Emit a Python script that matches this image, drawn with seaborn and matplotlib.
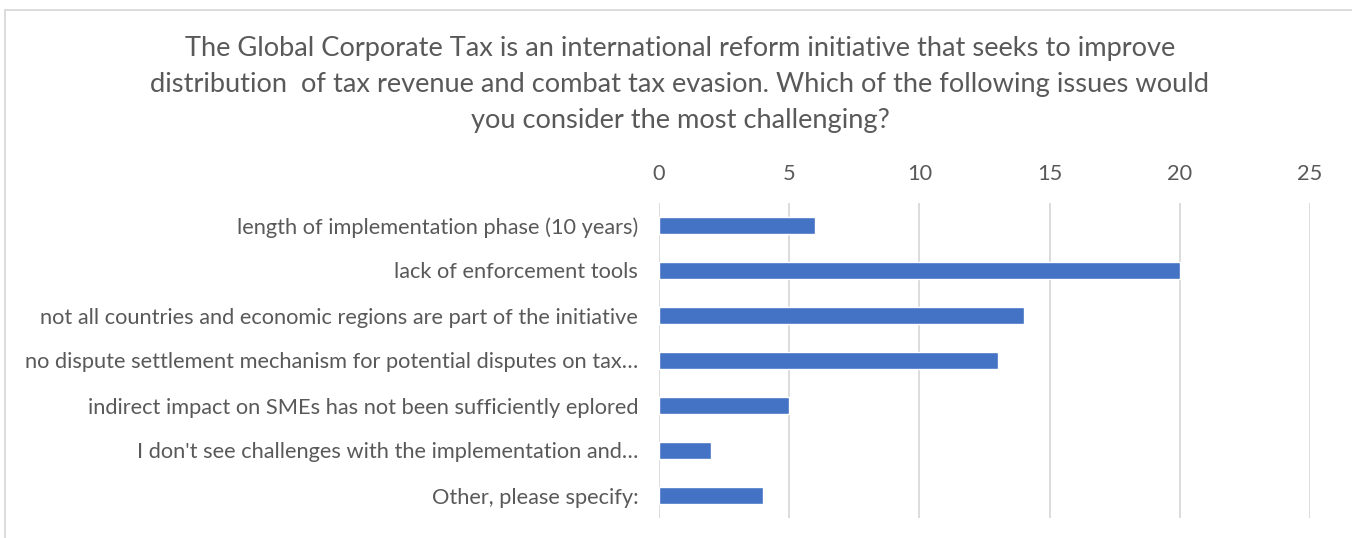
import matplotlib
matplotlib.use("Agg")
import matplotlib.pyplot as plt
import seaborn as sns
import pandas as pd
from matplotlib.patches import Rectangle

categories = [
    "length of implementation phase (10 years)",
    "lack of enforcement tools",
    "not all countries and economic regions are part of the initiative",
    "no dispute settlement mechanism for potential disputes on tax\u2026",
    "indirect impact on SMEs has not been sufficiently eplored",
    "I don't see challenges with the implementation and\u2026",
    "Other, please specify:",
]
responses = [6, 20, 14, 13, 5, 2, 4]
x_ticks = [0, 5, 10, 15, 20, 25]
title = ("The Global Corporate Tax is an international reform initiative that seeks to improve\n"
         "distribution  of tax revenue and combat tax evasion. Which of the following issues would\n"
         "you consider the most challenging?")

sns.set_theme(style="white")
plt.rcParams["font.family"] = ["Lato", "DejaVu Sans"]

W, H = 1352, 538
fig = plt.figure(figsize=(W / 100, H / 100), dpi=100)
ax = fig.add_axes([659 / W, 1 - 518 / H, (1310 - 659) / W, (518 - 203) / H])

df = pd.DataFrame({"issue": categories, "count": responses})
sns.barplot(data=df, y="issue", x="count", orient="h", color="#4472C4",
            saturation=1, width=0.36, ax=ax)

ax.set_xlim(0, 25)
ax.set_xticks(x_ticks)
ax.xaxis.tick_top()
ax.grid(axis="x", color="#D9D9D9", linewidth=1.3)
ax.set_axisbelow(True)
for s in ax.spines.values():
    s.set_visible(False)
ax.set_xlabel("")
ax.set_ylabel("")
ax.tick_params(axis="both", length=0, labelsize=15.7, colors="#595959")
ax.tick_params(axis="x", pad=14)
ax.tick_params(axis="y", pad=15)

fig.text(680 / W, 1 - 36 / H, title, ha="center", va="top", fontsize=19.6,
         color="#595959", linespacing=1.55)

fig.patches.append(Rectangle((5 / W, -0.1), 1.2, 1 - 10 / H + 0.1,
                             transform=fig.transFigure, fill=False,
                             edgecolor="#D9D9D9", linewidth=1.3))

fig.savefig("out.png", dpi=100, facecolor="white")
